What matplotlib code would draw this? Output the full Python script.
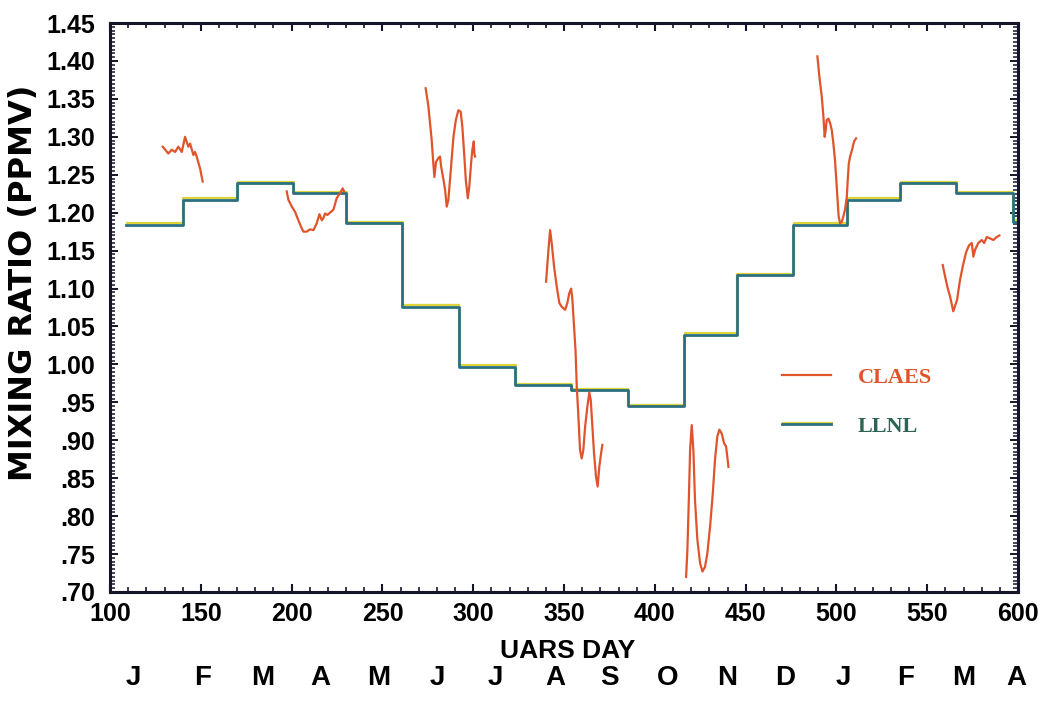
import numpy as np
import matplotlib.pyplot as plt
import matplotlib.patheffects as pe
from matplotlib.lines import Line2D
from matplotlib.ticker import MultipleLocator, FuncFormatter
from matplotlib.transforms import blended_transform_factory

# LLNL model: monthly means, one value per interval between edges
llnl_edges = [109, 140, 170, 201, 230, 261, 292, 323, 354, 385, 416,
              445, 476, 506, 535, 566, 597, 600]
llnl_values = [1.184, 1.217, 1.239, 1.226, 1.186, 1.076, 0.997, 0.973,
               0.966, 0.945, 1.039, 1.118, 1.184, 1.217, 1.239, 1.226, 1.188]

# CLAES observing periods (UARS day, ppmv)
claes_day_1 = [129.0, 132.1, 134.0, 135.8, 137.6, 139.5, 141.3, 143.1,
               144.1, 145.9, 146.8, 147.7, 149.6, 151.0]
claes_val_1 = [1.287, 1.278, 1.283, 1.280, 1.287, 1.280, 1.300, 1.287,
               1.291, 1.276, 1.280, 1.274, 1.258, 1.241]

claes_day_2 = [197.3, 198.2, 200.1, 201.9, 203.7, 205.6, 206.5, 208.3,
               210.1, 212.0, 213.8, 215.3, 216.6, 217.5, 218.4, 219.7,
               221.1, 223.0, 224.8, 226.7, 228.1, 228.9]
claes_val_2 = [1.228, 1.217, 1.208, 1.201, 1.190, 1.179, 1.175, 1.175,
               1.178, 1.177, 1.186, 1.198, 1.190, 1.193, 1.199, 1.197,
               1.200, 1.204, 1.219, 1.226, 1.232, 1.228]

claes_day_3 = [273.8, 275.3, 276.2, 277.1, 278.0, 278.6, 279.5, 280.8,
               281.7, 282.3, 283.5, 284.5, 285.4, 286.3, 287.8, 289.1,
               290.4, 291.8, 293.1, 294.0, 295.1, 295.9, 297.0, 297.8,
               298.8, 299.5, 300.3, 300.6, 301.0]
claes_val_3 = [1.364, 1.340, 1.318, 1.296, 1.265, 1.247, 1.267, 1.272,
               1.274, 1.261, 1.245, 1.230, 1.208, 1.217, 1.261, 1.300,
               1.322, 1.335, 1.333, 1.313, 1.274, 1.243, 1.219, 1.234,
               1.265, 1.283, 1.294, 1.278, 1.274]

claes_day_4 = [340.1, 341.4, 342.3, 343.2, 344.5, 346.0, 347.4, 348.7,
               350.6, 351.8, 352.9, 353.9, 354.6, 355.5, 356.3, 357.0,
               357.9, 358.8, 359.7, 360.6, 361.6, 362.8, 363.9, 364.7,
               365.6, 366.5, 367.6, 368.5, 369.4, 370.4, 371.1]
claes_val_4 = [1.109, 1.151, 1.177, 1.160, 1.129, 1.102, 1.081, 1.076,
               1.072, 1.081, 1.094, 1.100, 1.085, 1.050, 1.019, 0.971,
               0.931, 0.887, 0.876, 0.887, 0.918, 0.944, 0.963, 0.953,
               0.918, 0.883, 0.852, 0.839, 0.865, 0.883, 0.894]

claes_day_5 = [417.2, 417.9, 418.7, 419.4, 420.3, 421.2, 422.1, 423.4,
               424.9, 426.2, 427.6, 428.9, 430.4, 431.9, 433.1, 434.4,
               435.5, 436.8, 438.1, 439.2, 439.9, 440.5]
claes_val_5 = [0.720, 0.755, 0.821, 0.887, 0.920, 0.887, 0.821, 0.769,
               0.738, 0.727, 0.733, 0.751, 0.786, 0.830, 0.874, 0.905,
               0.914, 0.909, 0.896, 0.892, 0.878, 0.865]

claes_day_6 = [489.5, 490.6, 491.9, 492.8, 493.5, 494.1, 494.6, 495.6,
               496.5, 497.4, 498.3, 499.2, 499.8, 500.5, 501.2, 502.0,
               502.9, 503.8, 504.7, 505.7, 506.2, 506.8, 507.5, 508.6,
               509.7, 510.8]
claes_val_6 = [1.406, 1.379, 1.353, 1.327, 1.300, 1.309, 1.322, 1.324,
               1.318, 1.309, 1.291, 1.269, 1.247, 1.221, 1.195, 1.186,
               1.188, 1.195, 1.204, 1.221, 1.243, 1.265, 1.274, 1.283,
               1.294, 1.298]

claes_day_7 = [558.5, 559.8, 561.1, 562.6, 564.3, 566.4, 568.0, 569.7,
               571.4, 573.0, 574.5, 575.4, 576.3, 578.1, 580.0, 581.3,
               582.8, 584.6, 586.4, 588.3, 589.7]
claes_val_7 = [1.131, 1.116, 1.102, 1.089, 1.070, 1.085, 1.111, 1.131,
               1.148, 1.157, 1.160, 1.142, 1.151, 1.160, 1.164, 1.160,
               1.168, 1.166, 1.164, 1.168, 1.170]

month_names = ["J", "F", "M", "A", "M", "J", "J", "A", "S", "O", "N", "D",
               "J", "F", "M", "A"]
month_days = [113, 151, 184, 216, 248, 280, 312, 345, 375, 407, 440, 472,
              504, 538, 570, 599]

CLAES_COLOR = "#e0542c"
LLNL_COLOR = "#2b7080"
FRINGE = [pe.Stroke(offset=(0.5, 1.0), linewidth=1.6, foreground="#ddd43c"),
          pe.Normal()]


def ratio_fmt(v, pos):
    s = f"{v:.2f}"
    return s[1:] if v < 1 else s


def get_plot():
    fig = plt.figure(figsize=(10.5, 7.02), dpi=100)
    ax = fig.add_axes([0.1048, 0.1567, 0.8648, 0.8105])

    steps = llnl_values + [llnl_values[-1]]
    ax.step(llnl_edges, steps, where="post", color=LLNL_COLOR, lw=2.0,
            path_effects=FRINGE, zorder=2)

    claes = [(claes_day_1, claes_val_1), (claes_day_2, claes_val_2),
             (claes_day_3, claes_val_3), (claes_day_4, claes_val_4),
             (claes_day_5, claes_val_5), (claes_day_6, claes_val_6),
             (claes_day_7, claes_val_7)]
    for d, v in claes:
        ax.plot(d, v, color=CLAES_COLOR, lw=1.6, zorder=3)

    ax.set_xlim(100, 600)
    ax.set_ylim(0.70, 1.45)
    return fig, ax


def decorate_plot(fig, ax):
    tick_font = dict(family="Liberation Sans", weight="bold", size=18)

    for s in ax.spines.values():
        s.set_linewidth(2.2)
        s.set_color("#15152a")

    ax.xaxis.set_major_locator(MultipleLocator(50))
    ax.xaxis.set_minor_locator(MultipleLocator(10))
    ax.yaxis.set_major_locator(MultipleLocator(0.05))
    ax.yaxis.set_minor_locator(MultipleLocator(0.005))
    ax.yaxis.set_major_formatter(FuncFormatter(ratio_fmt))

    ax.tick_params(which="both", direction="in", top=True, right=True,
                   color="#15152a")
    ax.tick_params(axis="x", which="major", length=6, width=1.5, pad=7)
    ax.tick_params(axis="x", which="minor", length=3.5, width=1.2)
    ax.tick_params(axis="y", which="major", length=6, width=1.4, pad=11)
    ax.tick_params(axis="y", which="minor", length=3.5, width=1.1)
    for lab in ax.get_xticklabels() + ax.get_yticklabels():
        lab.set_fontproperties(tick_font)

    ax.set_xlabel("UARS DAY", fontdict=tick_font, fontsize=19)
    ax.xaxis.set_label_coords(0.504, -0.083)
    ax.set_ylabel("MIXING RATIO (PPMV)", family="DejaVu Sans",
                  weight="bold", fontsize=23)
    ax.yaxis.set_label_coords(-0.078, 0.543)

    # month initials under the day axis
    trans = blended_transform_factory(ax.transData, ax.transAxes)
    for d, m in zip(month_days, month_names):
        ax.text(d, -0.152, m, transform=trans, ha="center", va="center",
                family="Liberation Sans", weight="bold", fontsize=20)

    handles = [Line2D([], [], color=CLAES_COLOR, lw=1.6),
               Line2D([], [], color=LLNL_COLOR, lw=2.0, path_effects=FRINGE)]
    ax.legend(handles, ["CLAES", "LLNL"], loc="center left",
              bbox_to_anchor=(0.740, 0.334), frameon=False,
              borderpad=0, borderaxespad=0, handlelength=2.2,
              handletextpad=1.2, labelspacing=1.3,
              labelcolor=[CLAES_COLOR, "#2d6455"],
              prop=dict(family="Liberation Serif", weight="bold", size=16))
    return fig


if __name__ == "__main__":
    fig, ax = get_plot()
    fig = decorate_plot(fig, ax)
    fig.savefig("out.png", dpi=100, facecolor="white")
